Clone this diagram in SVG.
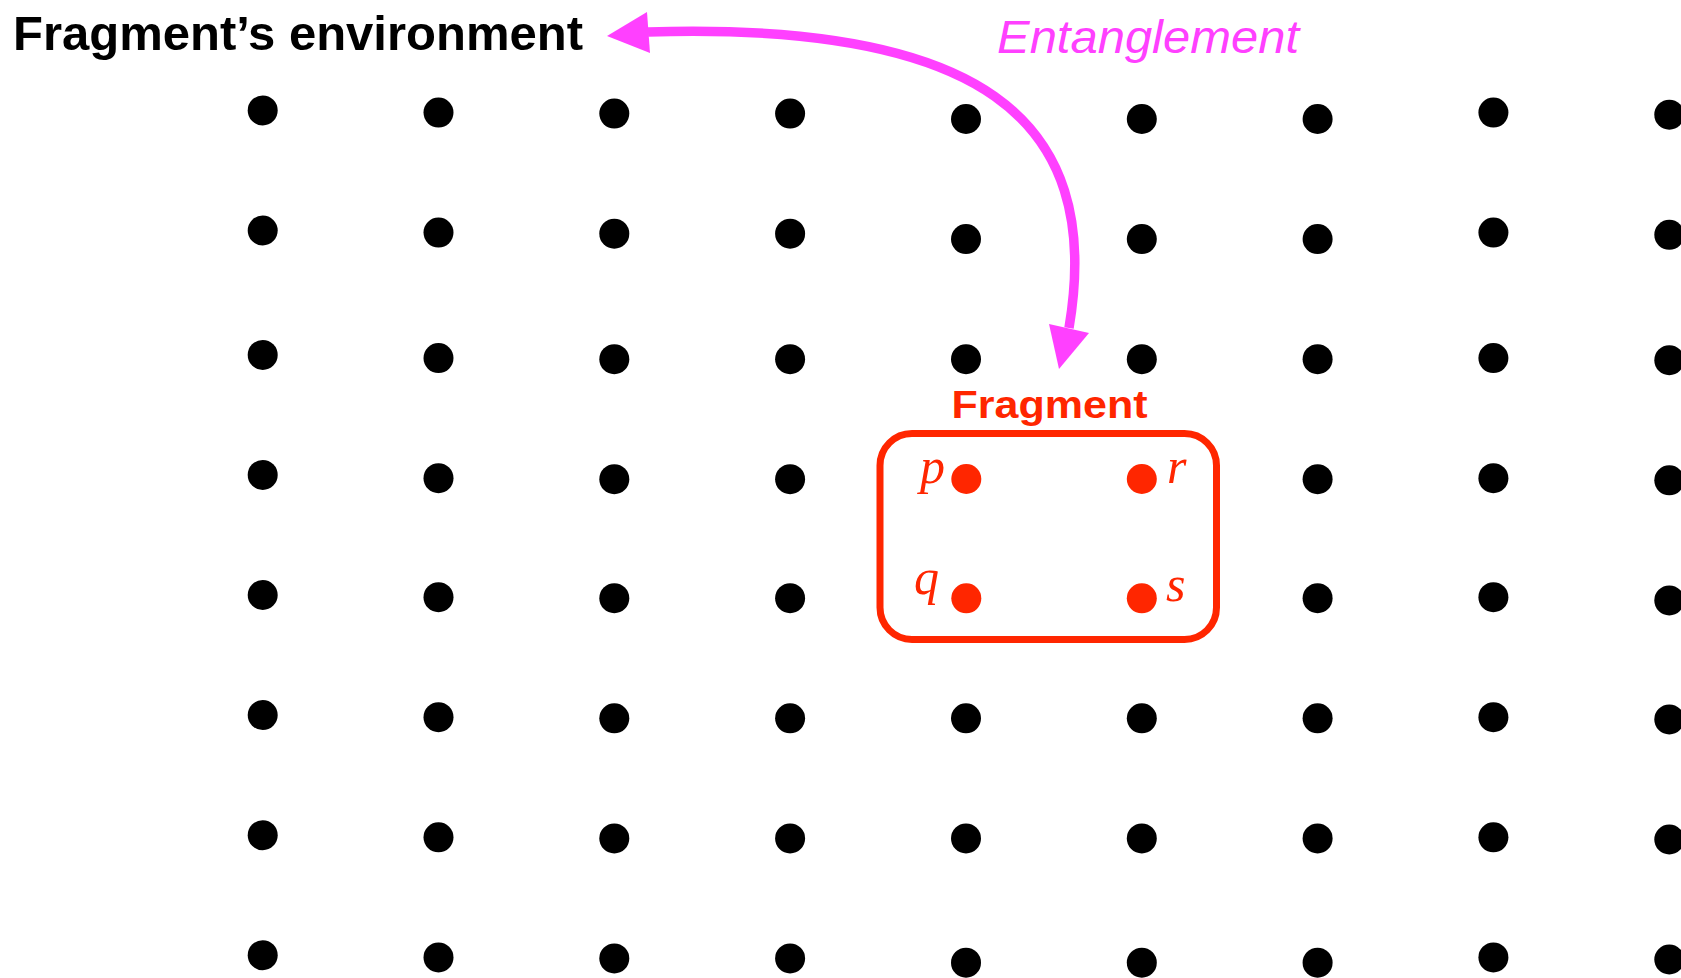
<svg xmlns="http://www.w3.org/2000/svg" width="1681" height="978" viewBox="0 0 1681 978">
  <style>
    .dot { fill: #000000; }
    .rdot { fill: #FF2600; }
    .lbl { font-family: "Liberation Sans", Arial, sans-serif; }
    .var { font-family: "Liberation Serif", "Times New Roman", serif; font-style: italic; font-size: 50px; fill: #FF2600; }
    .ent { fill: none; stroke: #FF40FF; stroke-width: 9.5; }
    .head { fill: #FF40FF; }
  </style>
  <rect width="1681" height="978" fill="#FFFFFF"/>

  <g id="environment-label">
    <text class="lbl" x="13" y="50" font-size="49" font-weight="bold" fill="#000000" textLength="570" lengthAdjust="spacingAndGlyphs">Fragment’s environment</text>
  </g>

  <g id="lattice">
    <g id="col1">
      <circle class="dot" cx="262.7" cy="110.4" r="15"/>
      <circle class="dot" cx="262.7" cy="230.5" r="15"/>
      <circle class="dot" cx="262.7" cy="354.9" r="15"/>
      <circle class="dot" cx="262.7" cy="474.9" r="15"/>
      <circle class="dot" cx="262.7" cy="595.0" r="15"/>
      <circle class="dot" cx="262.7" cy="715.1" r="15"/>
      <circle class="dot" cx="262.7" cy="835.2" r="15"/>
      <circle class="dot" cx="262.7" cy="955.2" r="15"/>
    </g>
    <g id="col2">
      <circle class="dot" cx="438.5" cy="112.6" r="15"/>
      <circle class="dot" cx="438.5" cy="232.6" r="15"/>
      <circle class="dot" cx="438.5" cy="358.1" r="15"/>
      <circle class="dot" cx="438.5" cy="478.2" r="15"/>
      <circle class="dot" cx="438.5" cy="597.2" r="15"/>
      <circle class="dot" cx="438.5" cy="717.2" r="15"/>
      <circle class="dot" cx="438.5" cy="837.3" r="15"/>
      <circle class="dot" cx="438.5" cy="957.4" r="15"/>
    </g>
    <g id="col3">
      <circle class="dot" cx="614.3" cy="113.6" r="15"/>
      <circle class="dot" cx="614.3" cy="233.7" r="15"/>
      <circle class="dot" cx="614.3" cy="359.2" r="15"/>
      <circle class="dot" cx="614.3" cy="479.2" r="15"/>
      <circle class="dot" cx="614.3" cy="598.2" r="15"/>
      <circle class="dot" cx="614.3" cy="718.3" r="15"/>
      <circle class="dot" cx="614.3" cy="838.4" r="15"/>
      <circle class="dot" cx="614.3" cy="958.4" r="15"/>
    </g>
    <g id="col4">
      <circle class="dot" cx="790.1" cy="113.6" r="15"/>
      <circle class="dot" cx="790.1" cy="233.7" r="15"/>
      <circle class="dot" cx="790.1" cy="359.2" r="15"/>
      <circle class="dot" cx="790.1" cy="479.2" r="15"/>
      <circle class="dot" cx="790.1" cy="598.2" r="15"/>
      <circle class="dot" cx="790.1" cy="718.3" r="15"/>
      <circle class="dot" cx="790.1" cy="838.4" r="15"/>
      <circle class="dot" cx="790.1" cy="958.4" r="15"/>
    </g>
    <g id="col5">
      <circle class="dot" cx="966" cy="119.0" r="15"/>
      <circle class="dot" cx="966" cy="239.1" r="15"/>
      <circle class="dot" cx="966" cy="359.2" r="15"/>
      <circle class="dot" cx="966" cy="718.3" r="15"/>
      <circle class="dot" cx="966" cy="838.4" r="15"/>
      <circle class="dot" cx="966" cy="962.7" r="15"/>
    </g>
    <g id="col6">
      <circle class="dot" cx="1141.8" cy="119.0" r="15"/>
      <circle class="dot" cx="1141.8" cy="239.1" r="15"/>
      <circle class="dot" cx="1141.8" cy="359.2" r="15"/>
      <circle class="dot" cx="1141.8" cy="718.3" r="15"/>
      <circle class="dot" cx="1141.8" cy="838.4" r="15"/>
      <circle class="dot" cx="1141.8" cy="962.7" r="15"/>
    </g>
    <g id="col7">
      <circle class="dot" cx="1317.6" cy="119.0" r="15"/>
      <circle class="dot" cx="1317.6" cy="239.1" r="15"/>
      <circle class="dot" cx="1317.6" cy="359.2" r="15"/>
      <circle class="dot" cx="1317.6" cy="479.2" r="15"/>
      <circle class="dot" cx="1317.6" cy="598.2" r="15"/>
      <circle class="dot" cx="1317.6" cy="718.3" r="15"/>
      <circle class="dot" cx="1317.6" cy="838.4" r="15"/>
      <circle class="dot" cx="1317.6" cy="962.7" r="15"/>
    </g>
    <g id="col8">
      <circle class="dot" cx="1493.4" cy="112.6" r="15"/>
      <circle class="dot" cx="1493.4" cy="232.6" r="15"/>
      <circle class="dot" cx="1493.4" cy="358.1" r="15"/>
      <circle class="dot" cx="1493.4" cy="478.2" r="15"/>
      <circle class="dot" cx="1493.4" cy="597.2" r="15"/>
      <circle class="dot" cx="1493.4" cy="717.2" r="15"/>
      <circle class="dot" cx="1493.4" cy="837.3" r="15"/>
      <circle class="dot" cx="1493.4" cy="957.4" r="15"/>
    </g>
    <g id="col9">
      <circle class="dot" cx="1669.3" cy="114.7" r="15"/>
      <circle class="dot" cx="1669.3" cy="234.8" r="15"/>
      <circle class="dot" cx="1669.3" cy="360.2" r="15"/>
      <circle class="dot" cx="1669.3" cy="480.3" r="15"/>
      <circle class="dot" cx="1669.3" cy="600.4" r="15"/>
      <circle class="dot" cx="1669.3" cy="719.4" r="15"/>
      <circle class="dot" cx="1669.3" cy="839.5" r="15"/>
      <circle class="dot" cx="1669.3" cy="959.5" r="15"/>
    </g>
  </g>

  <g id="fragment">
    <text class="lbl" x="951.5" y="418" font-size="38" font-weight="bold" fill="#FF2600" textLength="196" lengthAdjust="spacingAndGlyphs">Fragment</text>
    <rect x="880" y="433.5" width="336.5" height="206" rx="32" ry="32" fill="none" stroke="#FF2600" stroke-width="7"/>
    <g id="site-p">
      <circle class="rdot" cx="966.3" cy="479" r="15"/>
      <text class="var" x="920" y="483">p</text>
    </g>
    <g id="site-r">
      <circle class="rdot" cx="1141.8" cy="479" r="15"/>
      <text class="var" x="1167" y="483">r</text>
    </g>
    <g id="site-q">
      <circle class="rdot" cx="966.3" cy="598.3" r="15"/>
      <text class="var" x="914" y="594">q</text>
    </g>
    <g id="site-s">
      <circle class="rdot" cx="1141.8" cy="598.3" r="15"/>
      <text class="var" x="1166" y="601">s</text>
    </g>
  </g>

  <g id="connectors">
    <path class="ent" d="M 648 32 C 975 22, 1105 115, 1069 328"/>
    <polygon class="head" points="607,36 647,12 650,53"/>
    <polygon class="head" points="1059,369 1049,324 1089,333"/>
    <text class="lbl" x="997" y="53" font-size="46" font-style="italic" fill="#FF40FF" textLength="302" lengthAdjust="spacingAndGlyphs">Entanglement</text>
  </g>
</svg>
